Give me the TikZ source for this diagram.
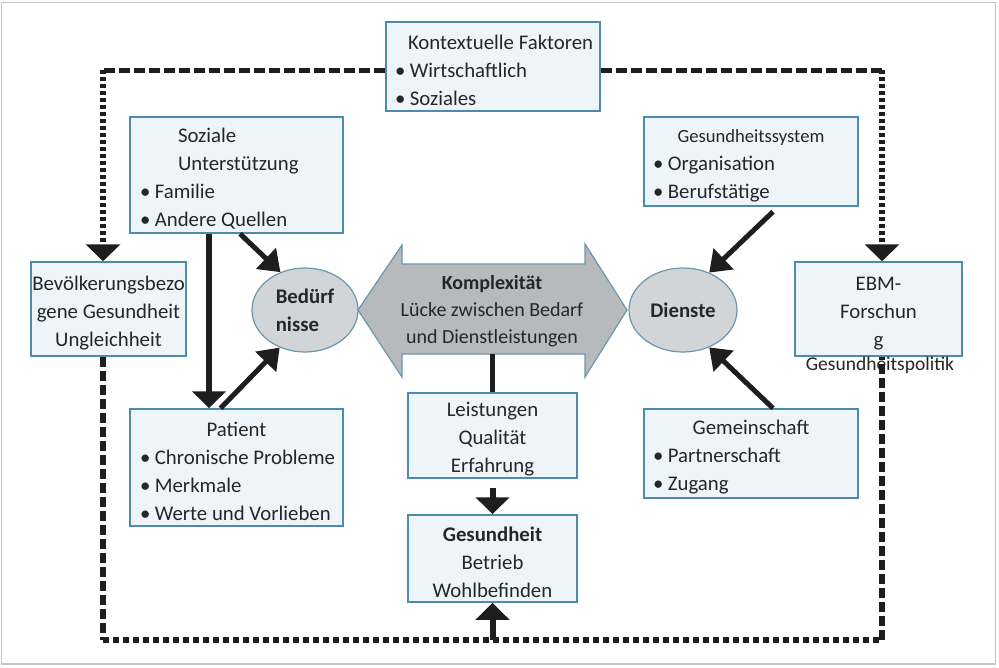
\documentclass[tikz,border=0pt]{standalone}
\usepackage{fontspec}
\setmainfont{Carlito}
\usetikzlibrary{arrows.meta,shapes.geometric}
\definecolor{boxfill}{HTML}{EEF5FA}
\definecolor{boxline}{HTML}{4C8CAA}
\definecolor{ellfill}{HTML}{D2D5D8}
\definecolor{ellline}{HTML}{6A97AE}
\definecolor{arrfill}{HTML}{B7BABD}
\definecolor{txt}{HTML}{262626}
\definecolor{lnk}{HTML}{1E1E1E}
\newcommand{\ctr}[1]{\makebox[\hsize][c]{#1}}
\newcommand{\bul}[1]{\makebox[\hsize][l]{•\hspace{4.5pt}#1}}
\newcommand{\lft}[2]{\makebox[\hsize][l]{\hspace*{#1}#2}}
\begin{document}
\begin{tikzpicture}[x=1pt,y=-1pt,
  font=\fontsize{20.8}{28}\selectfont, text=txt,
  every node/.append style={execute at begin node={\spaceskip=0pt\xspaceskip=0pt}},
  infobox/.style={draw=boxline, fill=boxfill, line width=1.5pt, rectangle,
    inner xsep=9pt, inner ysep=0pt, align=left, text height=22pt},
  ellnode/.style={ellipse, draw=ellline, fill=ellfill, line width=1.2pt,
    inner sep=0pt, align=left},
  bigarr/.style={draw=lnk, line width=6pt, -{Triangle[width=33pt,length=17pt]}},
  diagarr/.style={draw=lnk, line width=5pt, -{Triangle[width=28pt,length=20pt]}},
  dashl/.style={draw=lnk, line width=5pt, dash pattern=on 11pt off 4pt},
  dashv/.style={draw=lnk, line width=6pt, dash pattern=on 10pt off 4pt},
  dotv/.style={draw=lnk, line width=6pt, dash pattern=on 3.5pt off 3.5pt},
  doth/.style={draw=lnk, line width=6pt, dash pattern=on 6pt off 4pt},
  dothead/.style={-{Triangle[width=34pt,length=17pt]}}
]
\useasboundingbox (0,0) rectangle (999,667);
\fill[white] (0,0) rectangle (999,667);
\draw[gray!45, line width=1.3pt] (1.2,2.5) rectangle (995.5,664);

% boxes
\node[infobox, text width=196pt, minimum height=89pt] (kon) at (493,66.5)
  {\lft{13pt}{Kontextuelle Faktoren}\\\bul{Wirtschaftlich}\\\bul{Soziales}};
\node[infobox, inner xsep=10pt, text width=193pt, minimum height=116pt] (soz) at (236.5,175)
  {\lft{38pt}{Soziale}\\\lft{38pt}{Unterstützung}\\\bul{Familie}\\\bul{Andere Quellen}};
\node[infobox, text width=196pt, minimum height=89pt] (gsys) at (751,161.5)
  {\ctr{\fontsize{18.6}{28}\selectfont Gesundheitssystem}\\\bul{Organisation}\\\bul{Berufstätige}};
\node[infobox, inner xsep=2pt, text width=151pt, minimum height=94pt] (bev) at (108.5,309)
  {\ctr{Bevölkerungsbezo}\\\ctr{gene Gesundheit}\\\ctr{Ungleichheit}};
\node[infobox, text width=149pt, minimum height=94pt] (ebm) at (878.5,309)
  {\ctr{EBM-}\\\ctr{Forschun}\\\ctr{g}};
\node[font=\fontsize{19.5}{24}\selectfont] (pol) at (880,365) {Gesundheitspolitik};
\node[infobox, inner xsep=10pt, text width=193pt, minimum height=117pt] (pat) at (236.5,467.5)
  {\ctr{Patient}\\\bul{Chronische Probleme}\\\bul{Merkmale}\\\bul{Werte und Vorlieben}};
\node[infobox, text width=196pt, minimum height=89pt] (gem) at (751,453.5)
  {\ctr{Gemeinschaft}\\\bul{Partnerschaft}\\\bul{Zugang}};
\node[infobox, text width=151pt, minimum height=85pt] (leist) at (492.5,435.5)
  {\ctr{Leistungen}\\\ctr{Qualität}\\\ctr{Erfahrung}};
\node[infobox, text width=151pt, minimum height=87pt] (gesund) at (492.5,558.5)
  {\ctr{\textbf{Gesundheit}}\\\ctr{Betrieb}\\\ctr{Wohlbefinden}};

% ellipses
\node[ellnode, minimum width=106pt, minimum height=84pt] (bed) at (305,310)
  {\textbf{Bedürf}\\\textbf{nisse}};
\node[ellnode, minimum width=108pt, minimum height=84pt] (dien) at (683,310)
  {\textbf{Dienste}};

% double arrow
\draw[draw=ellline, fill=arrfill, line width=1.2pt]
  (358,310) -- (402,245) -- (402,264) -- (585,264) -- (585,244) -- (627,310)
  -- (585,377) -- (585,354) -- (402,354) -- (402,377) -- cycle;
\node[align=center, font=\fontsize{20}{27}\selectfont] (cplx) at (492,311.5)
  {\textbf{Komplexität}\\Lücke zwischen Bedarf\\und Dienstleistungen};
\coordinate (cplxb) at (492.5,354);
\draw[draw=lnk, line width=5pt] (cplxb) -- (leist.north);

% solid arrows
\draw[bigarr] ([xshift=-27.5pt]soz.south) -- ([xshift=-27.5pt]pat.north);
\draw[diagarr] ([xshift=3.5pt]soz.south) -- (bed.123);
\draw[diagarr] ([xshift=-16pt]pat.north) -- (bed.236);
\draw[diagarr] ([xshift=22pt,yshift=-5pt]gsys.south) -- (dien.55);
\draw[diagarr] ([xshift=22pt]gem.north) -- (dien.305);
\draw[bigarr] ([yshift=-9pt]leist.south) -- (gesund.north);

% feedback loop
\coordinate (cTL) at (103,70);
\coordinate (cTR) at (882,70);
\coordinate (cBL) at (103,640);
\coordinate (cBR) at (882,640);
\coordinate (cBM) at (492.5,640);
\draw[dashl] (cTL -| kon.west) -- (cTL);
\draw[dashl] (cTR -| kon.east) -- (cTR);
\draw[dotv, dothead] (cTL) -- (cTL |- bev.north);
\draw[dotv, dothead] (cTR) -- (cTR |- ebm.north);
\draw[dashv] (cBL |- bev.south) -- (cBL);
\draw[doth] (cBL) -- (cBR);
\draw[dashv] (cBR) -- (cBR |- ebm.south);
\draw[bigarr] (cBM) -- (gesund.south);
\end{tikzpicture}
\end{document}
